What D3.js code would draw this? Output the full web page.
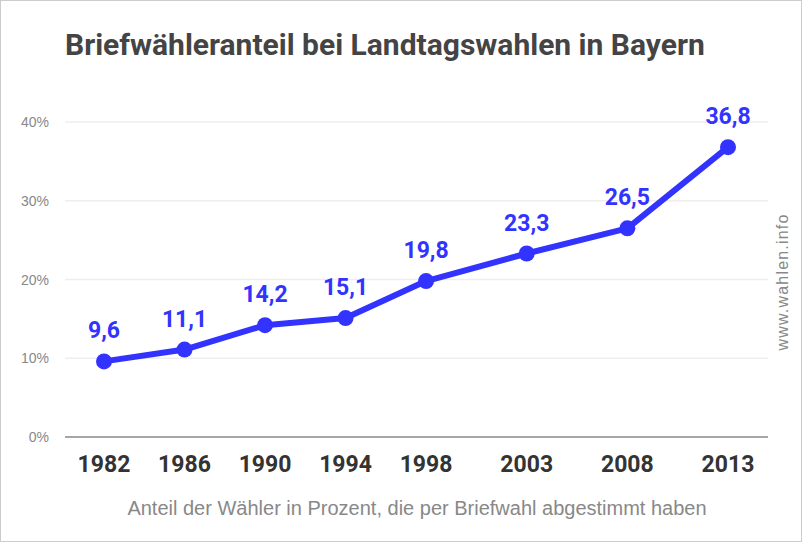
<!DOCTYPE html>
<html><head><meta charset="utf-8">
<script src="https://cdn.jsdelivr.net/npm/d3@7"></script>
<style>
body{margin:0;background:#fff;}
svg{display:block;}
</style></head>
<body>
<svg id="c" width="802" height="542"></svg>
<script>
const years = [1982, 1986, 1990, 1994, 1998, 2003, 2008, 2013];
const shares = [9.6, 11.1, 14.2, 15.1, 19.8, 23.3, 26.5, 36.8];
const yTicks = [0, 10, 20, 30, 40];
const title = "Briefwähleranteil bei Landtagswahlen in Bayern";
const subtitle = "Anteil der Wähler in Prozent, die per Briefwahl abgestimmt haben";
const source = "www.wahlen.info";

const svg = d3.select("#c");
const W = 802, H = 542;
svg.append("rect").attr("x",0.5).attr("y",0.5).attr("width",W-1).attr("height",H-1)
  .attr("fill","#fff").attr("stroke","#cccccc");

const x = d3.scaleLinear().domain([1982, 2013]).range([104, 728]);
const y = d3.scaleLinear().domain([0, 40]).range([437, 122]);
const left = 65, right = 768;

// grid
svg.append("g").selectAll("line").data(yTicks.filter(d=>d>0)).join("line")
  .attr("x1",left).attr("x2",right).attr("y1",d=>y(d)).attr("y2",d=>y(d))
  .attr("stroke","#eeeeee").attr("stroke-width",1.5);
svg.append("line").attr("x1",left).attr("x2",right).attr("y1",y(0)).attr("y2",y(0))
  .attr("stroke","#888").attr("stroke-width",1.5);

// y labels
svg.append("g").selectAll("text").data(yTicks).join("text")
  .attr("x",49).attr("y",d=>y(d)+5).attr("text-anchor","end")
  .attr("font-family","'Liberation Sans', Arial, sans-serif").attr("font-size",14)
  .attr("fill","#888").text(d=>d+"%");

// x labels
svg.append("g").selectAll("text").data(years).join("text")
  .attr("x",d=>x(d)).attr("y",472).attr("text-anchor","middle")
  .attr("font-family","Roboto, sans-serif").attr("font-weight","bold").attr("font-size",23)
  .attr("fill","#333").text(d=>d);

// line
const pts = years.map((d,i)=>[d, shares[i]]);
svg.append("path").datum(pts)
  .attr("d", d3.line().x(d=>x(d[0])).y(d=>y(d[1])))
  .attr("fill","none").attr("stroke","#3333ff").attr("stroke-width",6).attr("stroke-linejoin","round");
svg.append("g").selectAll("circle").data(pts).join("circle")
  .attr("cx",d=>x(d[0])).attr("cy",d=>y(d[1])).attr("r",8).attr("fill","#3333ff");

// value labels
svg.append("g").selectAll("text").data(pts).join("text")
  .attr("x",d=>x(d[0])).attr("y",d=>y(d[1])-23).attr("text-anchor","middle")
  .attr("font-family","Roboto, sans-serif").attr("font-weight","bold").attr("font-size",23)
  .attr("fill","#3333ff").text(d=>d3.format(".1f")(d[1]).replace(".",","));

// title
svg.append("text").attr("x",65).attr("y",55)
  .attr("font-family","Roboto, sans-serif").attr("font-weight","bold").attr("font-size",30)
  .attr("fill","#444").text(title);

// subtitle
svg.append("text").attr("x",417).attr("y",515).attr("text-anchor","middle")
  .attr("font-family","'Liberation Sans', Arial, sans-serif").attr("font-size",20)
  .attr("fill","#888").text(subtitle);

// source
svg.append("text").attr("transform","translate(788,282) rotate(-90)").attr("text-anchor","middle")
  .attr("font-family","'Liberation Sans', Arial, sans-serif").attr("font-size",16)
  .attr("letter-spacing","1.2").attr("fill","#888").text(source);
</script>
</body></html>
